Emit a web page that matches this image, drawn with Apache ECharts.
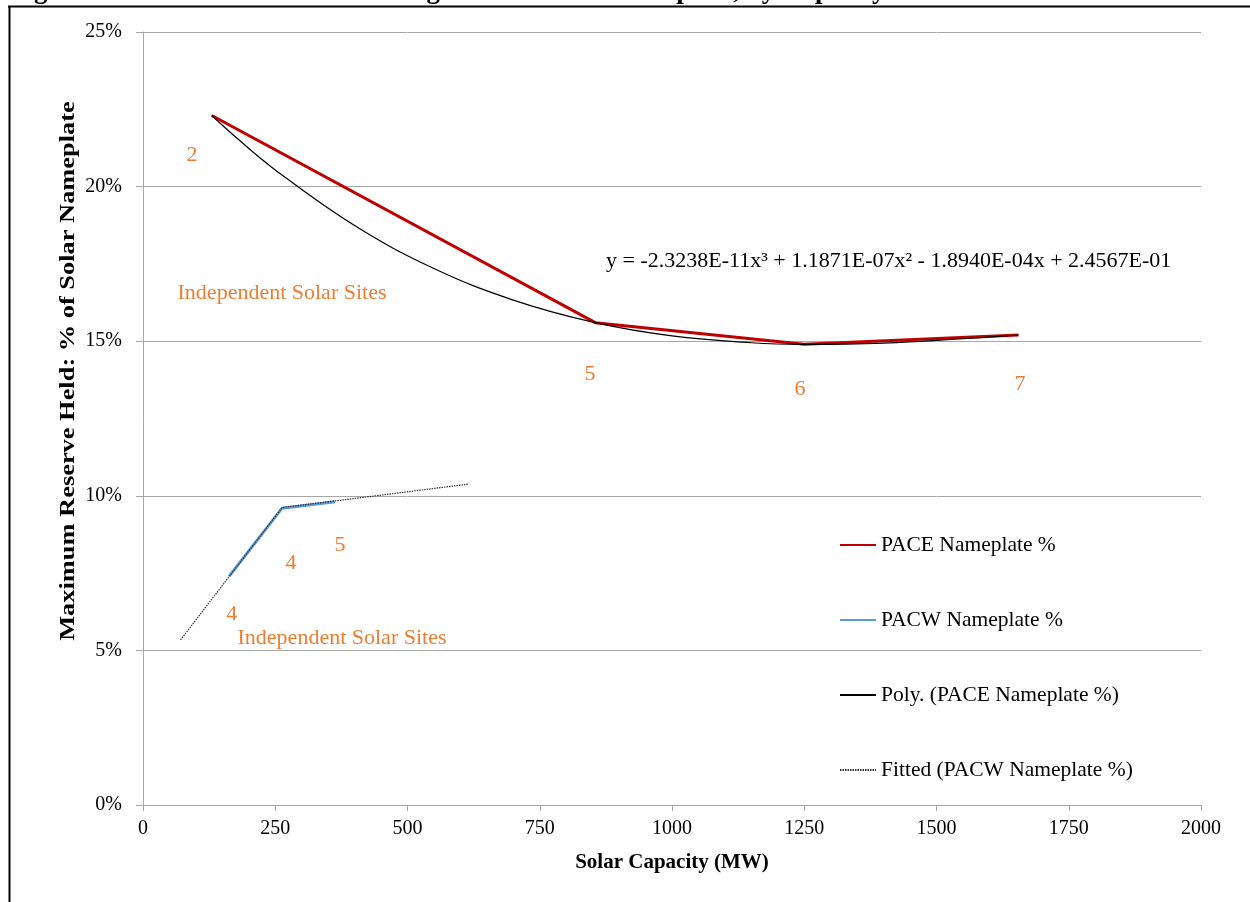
<!DOCTYPE html>
<html><head><meta charset="utf-8">
<script src="https://cdn.jsdelivr.net/npm/echarts@6/dist/echarts.min.js"></script>
<style>html,body{margin:0;padding:0;background:#fff}#c{width:1250px;height:902px}</style>
</head><body><div id="c"></div>
<script>
// ---- data (values in MW and %) ----
const paceX = [130, 855, 1250, 1655];
const paceY = [22.30, 15.60, 14.90, 15.20];
const pacwX = [163, 263, 363];
const pacwY = [7.40, 9.60, 9.81];
const polyX = [130, 180, 250, 400, 550, 700, 855, 1000, 1150, 1250, 1400, 1550, 1655];
const polyY = [22.30, 21.53, 20.54, 18.74, 17.35, 16.33, 15.60, 15.17, 14.95, 14.90, 14.94, 15.08, 15.20];
const fitX = [71, 263, 616];
const fitY = [5.34, 9.62, 10.38];
const annoText = ['2', 'Independent Solar Sites', '5', '6', '7', '4', '4', '5', 'Independent Solar Sites'];
const annoX = [92.6, 262.8, 845, 1242, 1658, 167.7, 279.8, 372.4, 376.2];
const annoY = [21.02, 16.56, 13.94, 13.45, 13.62, 6.18, 7.83, 8.41, 5.40];
const equationText = 'y = -2.3238E-11x³ + 1.1871E-07x² - 1.8940E-04x + 2.4567E-01';
const equationPos = [875.3, 17.59];
const seriesNames = ['PACE Nameplate %', 'PACW Nameplate %', 'Poly. (PACE Nameplate %)', 'Fitted (PACW Nameplate %)'];
const xMin = 0, xMax = 2000, xStep = 250;
const yMin = 0, yMax = 25, yStep = 5;
const xTitle = 'Solar Capacity (MW)';
const yTitle = 'Maximum Reserve Held: % of Solar Nameplate';
const figTitle = 'Figure 4: Maximum Reserve Holding as % of Solar Nameplate, by Capacity';

const FONT = '"Liberation Serif", "Times New Roman", serif';
const ORANGE = '#ED7D31';
const GRID = '#A6A6A6';
const zip = (xs, ys) => xs.map((x, i) => [x, ys[i]]);

const chart = echarts.init(document.getElementById('c'), null, {renderer: 'canvas'});
chart.setOption({
  animation: false,
  backgroundColor: '#fff',
  grid: {left: 143, right: 49, top: 32, bottom: 97, containLabel: false},
  xAxis: {
    type: 'value', min: xMin, max: xMax, interval: xStep,
    axisLine: {show: true, lineStyle: {color: GRID, width: 1}},
    axisTick: {show: true, length: 6, lineStyle: {color: GRID}},
    splitLine: {show: false},
    axisLabel: {color: '#000', fontFamily: FONT, fontSize: 20, margin: 14, formatter: v => String(v)},
    name: xTitle, nameLocation: 'middle', nameGap: 47,
    nameTextStyle: {color: '#000', fontFamily: FONT, fontSize: 21, fontWeight: 'bold'}
  },
  yAxis: {
    type: 'value', min: yMin, max: yMax, interval: yStep,
    axisLine: {show: true, lineStyle: {color: GRID, width: 1}},
    axisTick: {show: true, length: 7, lineStyle: {color: GRID}},
    splitLine: {show: true, lineStyle: {color: GRID, width: 1}},
    axisLabel: {color: '#000', fontFamily: FONT, fontSize: 20, margin: 21, formatter: '{value}%'}
  },
  legend: {
    data: seriesNames,
    orient: 'vertical', left: 834, top: 529,
    itemWidth: 36, itemHeight: 14, itemGap: 53,
    textStyle: {color: '#000', fontFamily: FONT, fontSize: 21.5, lineHeight: 22}
  },
  series: [
    {name: seriesNames[0], type: 'line', data: zip(paceX, paceY), symbol: 'none', z: 5,
     lineStyle: {color: '#C00000', width: 3}, itemStyle: {color: '#C00000', opacity: 0}},
    {name: seriesNames[1], type: 'line', data: zip(pacwX, pacwY), symbol: 'none', z: 4,
     lineStyle: {color: '#5B9BD5', width: 3}, itemStyle: {color: '#5B9BD5', opacity: 0}},
    {name: seriesNames[2], type: 'line', data: zip(polyX, polyY), symbol: 'none', smooth: 0.4, z: 6,
     lineStyle: {color: '#000', width: 1.2}, itemStyle: {color: '#333', opacity: 0}},
    {name: seriesNames[3], type: 'line', data: zip(fitX, fitY), symbol: 'none', z: 6,
     lineStyle: {color: '#333', width: 1.2, type: [1.5, 1]}, itemStyle: {color: '#333', opacity: 0}},
    {name: 'annotations', type: 'scatter', silent: true, symbolSize: 1, z: 7,
     itemStyle: {color: 'rgba(0,0,0,0)', opacity: 1},
     data: annoText.map((t, i) => ({name: t, value: [annoX[i], annoY[i]]})),
     label: {show: true, position: 'inside', formatter: p => p.name, color: ORANGE, opacity: 1,
             fontFamily: FONT, fontSize: 22, align: 'center', verticalAlign: 'middle'}},
    {name: 'equation', type: 'scatter', silent: true, symbolSize: 1, z: 7,
     itemStyle: {color: 'rgba(0,0,0,0)', opacity: 1},
     data: [{name: equationText, value: equationPos}],
     label: {show: true, position: 'inside', formatter: p => p.name, color: '#000', opacity: 1,
             fontFamily: FONT, fontSize: 22, align: 'left', verticalAlign: 'middle'}}
  ],
  graphic: [
    {type: 'text', left: 10, top: -22, z: 1,
     style: {text: figTitle, font: 'bold 27px ' + FONT, fill: '#000'}},
    {type: 'line', shape: {x1: 8, y1: 6.5, x2: 1250, y2: 6.5}, style: {stroke: '#000', lineWidth: 2}, z: 10},
    {type: 'line', shape: {x1: 9.5, y1: 6, x2: 9.5, y2: 902}, style: {stroke: '#000', lineWidth: 2}, z: 10},
    {type: 'text', x: 68, y: 371, rotation: Math.PI / 2, scaleX: 1.2, scaleY: 1,
     style: {text: yTitle, font: 'bold 22px ' + FONT, fill: '#000', align: 'center', verticalAlign: 'middle'}}
  ]
});
</script>
</body></html>
